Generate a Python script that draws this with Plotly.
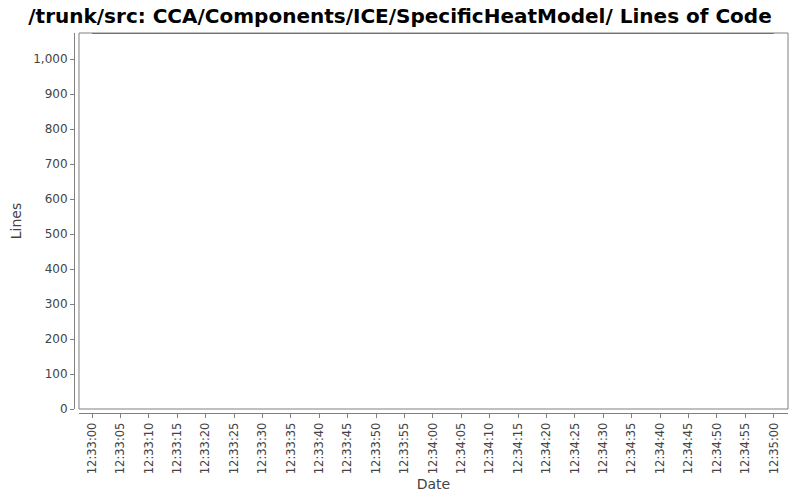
"""
Lines of Code chart (JFreeChart-like look)
"""

import plotly.graph_objects as go

# data
dates = ["2010-01-01 12:33:00", "2010-01-01 12:35:00"]
lines = [1075, 1075]

title = "/trunk/src: CCA/Components/ICE/SpecificHeatModel/ Lines of Code"

gray = "#808080"
text_gray = "#444444"

# the page body has an 8px default margin, so the figure is shrunk to fit
W, H = 784, 484
m_l, m_r, m_t, m_b = 65.7, 3.7, 25, 78.7

fig = go.Figure()

fig.add_trace(go.Scatter(
    x=dates, y=lines, mode="lines",
    line=dict(color="#800000", width=1),
    cliponaxis=False,
    showlegend=False, hoverinfo="skip"
))

# plot border
fig.add_shape(type="rect", xref="x domain", yref="y domain",
              x0=0, x1=1, y0=0, y1=1,
              line=dict(color=gray, width=1), layer="below")

fig.update_layout(
    width=W, height=H,
    margin=dict(l=m_l, r=m_r, t=m_t, b=m_b),
    paper_bgcolor="white", plot_bgcolor="white",
    font=dict(family="DejaVu Sans", color=text_gray),
    title=dict(text="<b>" + title + "</b>", x=0.5, xref="container", xanchor="center",
               y=1 - 8 / H, yref="container", yanchor="middle",
               font=dict(size=20, color="black", family="DejaVu Sans")),
    xaxis=dict(
        domain=[5 / (W - m_l - m_r), 1],
        anchor="free", position=0, automargin=False,
        range=["2010-01-01 12:32:57.7", "2010-01-01 12:35:02.5"],
        tickmode="linear", tick0="2010-01-01 12:33:00", dtick=5000,
        tickformat="%H:%M:%S", tickangle=-90,
        ticks="outside", ticklen=4, tickcolor=gray,
        showline=True, linecolor=gray, showgrid=False, zeroline=False,
        tickfont=dict(size=11.5, color=text_gray),
        title=dict(text="Date", font=dict(size=14, color=text_gray), standoff=8),
    ),
    yaxis=dict(
        domain=[4 / (H - m_t - m_b), 1],
        anchor="free", position=0, automargin=False,
        range=[0, 1075],
        tickmode="linear", tick0=0, dtick=100, tickformat=",",
        ticks="outside", ticklen=4, tickcolor=gray,
        showline=True, linecolor=gray, showgrid=False, zeroline=False,
        tickfont=dict(size=12, color=text_gray),
        title=dict(text="Lines", font=dict(size=14, color=text_gray), standoff=7),
    ),
)

fig.write_html("out.html")
